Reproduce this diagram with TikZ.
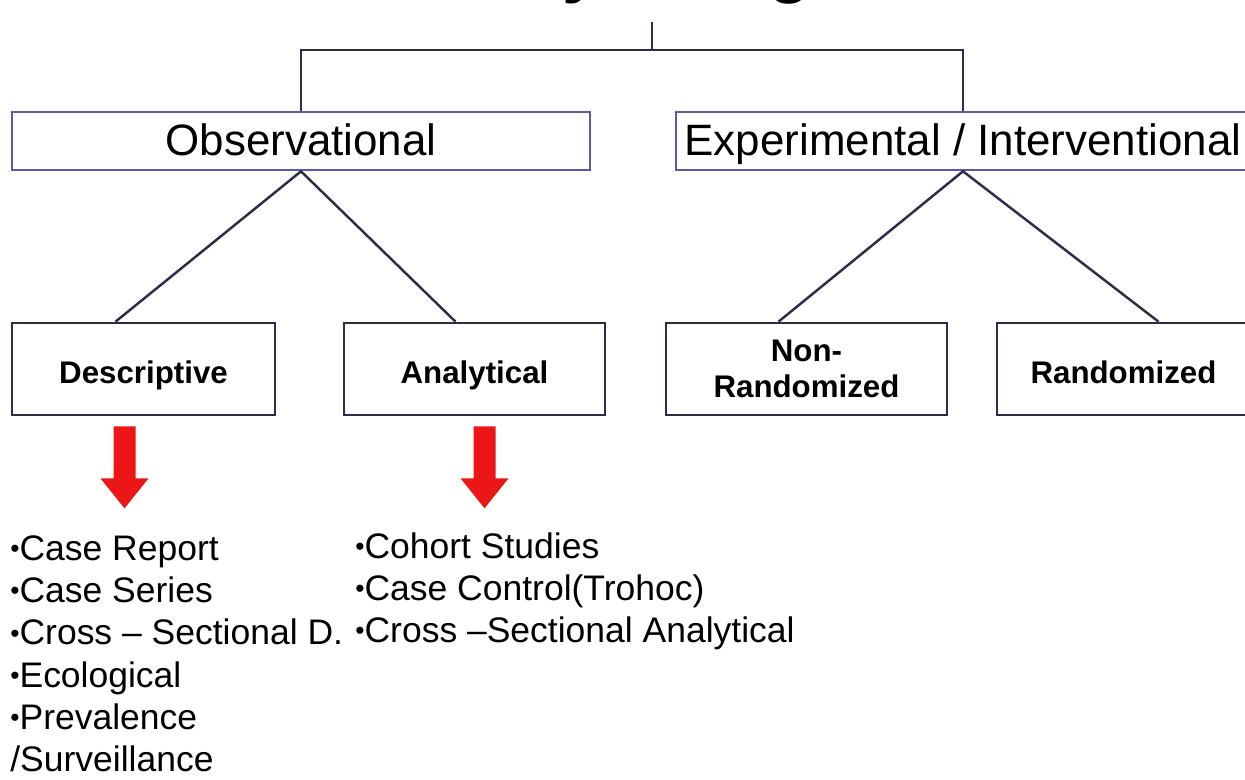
\documentclass[tikz,border=0pt]{standalone}
\usepackage{fontspec}
\setmainfont{Liberation Sans}
\usetikzlibrary{calc}

\definecolor{framebl}{RGB}{92,90,168}
\definecolor{linegr}{RGB}{45,45,70}
\definecolor{arrred}{RGB}{236,22,22}

\tikzset{
  catbox/.style={draw=framebl, line width=1.5pt, inner sep=0pt, minimum height=58*0.02cm, text height=16.8pt, text depth=0pt, font=\fontsize{25}{30}\selectfont},
  subbox/.style={draw=linegr, line width=1.5pt, inner sep=0pt, align=center, minimum height=92*0.02cm, font=\fontsize{17.8}{20.5}\selectfont\bfseries},
  oneline/.style={text height=16.2pt, text depth=0pt},
  treeln/.style={draw=linegr, line width=1.4pt},
  listtxt/.style={anchor=north west, align=left, inner sep=0pt, font=\fontsize{20.2}{24.1}\selectfont},
}
\newcommand{\itm}{{\fontsize{15}{15}\selectfont\raisebox{0.2ex}{•}}}
% red arrow pointing down from a top point
\newcommand{\downarr}[1]{\fill[arrred] ($(#1)+(-11,0)$) -- ++(22,0) -- ++(0,52) -- ++(13,0) -- ($(#1)+(0,82)$) -- ++(-24,-30) -- ++(13,0) -- cycle;}

\begin{document}
\begin{tikzpicture}[x=0.02cm, y=-0.02cm]
\clip (0,0) rectangle (1245,780);
\fill[white] (0,0) rectangle (1245,780);

\node[anchor=base, font=\fontsize{39.7}{44}\selectfont\bfseries] (title) at (650,-10) {Study Designs};

% main categories
\node[catbox, minimum width=578*0.02cm] (obs) at (301,141) {Observational};
\node[catbox, minimum width=574*0.02cm] (exp) at (963,141) {Experimental / Interventional};

% sub types
\node[subbox, oneline, minimum width=263*0.02cm] (desc) at (143.5,369) {Descriptive};
\node[subbox, oneline, minimum width=261*0.02cm] (anly) at (474.5,369) {Analytical};
\node[subbox, minimum width=281*0.02cm] (nonrand) at (806.5,369) {Non-\\Randomized};
\node[subbox, oneline, minimum width=253*0.02cm] (rand) at (1123.5,369) {Randomized};

% tree lines
\coordinate (root) at (652,22);
\draw[treeln] (root) -- ++(0,28) coordinate (fork);
\draw[treeln] (obs.north) |- (fork) -| (exp.north);
\draw[treeln] ($(desc.north)+(-28,0)$) -- (obs.south) -- ($(anly.north)+(-19,0)$);
\draw[treeln] ($(nonrand.north)+(-28,0)$) -- (exp.south) -- ($(rand.north)+(35,0)$);

% arrows to the lists
\coordinate (descarr) at ($(desc.south)+(-19,10)$);
\coordinate (anlyarr) at ($(anly.south)+(10,10)$);
\downarr{descarr}
\downarr{anlyarr}

\node[listtxt] (desclist) at (10,535) {\itm Case Report\\ \itm Case Series\\ \itm Cross -- Sectional D.\\ \itm Ecological\\ \itm Prevalence\\ /Surveillance};
\node[listtxt] (anlylist) at (355,532) {\itm Cohort Studies\\ \itm Case Control(Trohoc)\\ \itm Cross --Sectional Analytical};

\end{tikzpicture}
\end{document}
